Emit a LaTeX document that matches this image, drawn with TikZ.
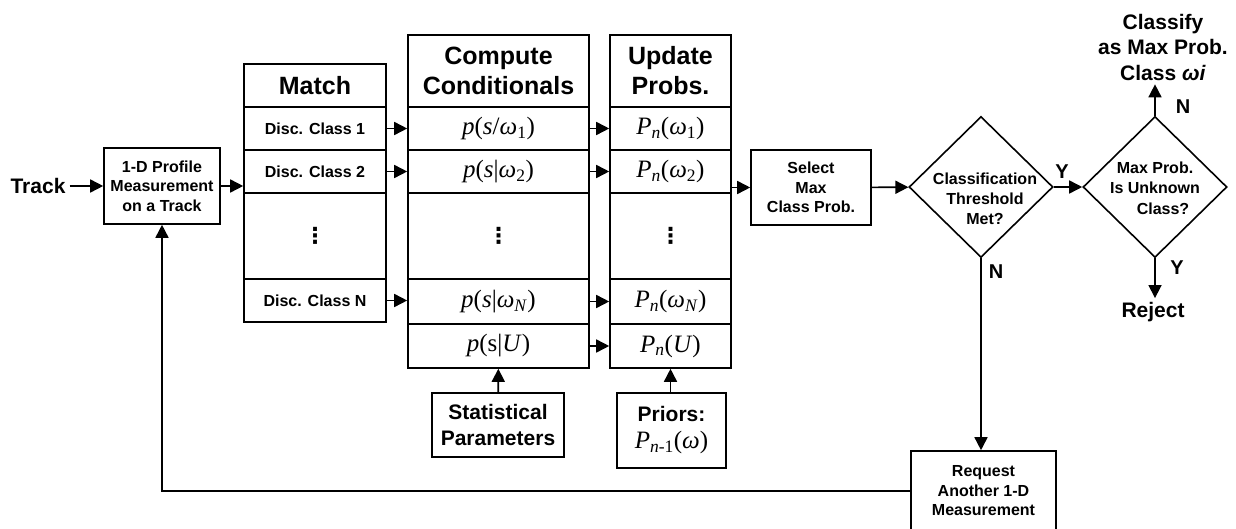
\documentclass[tikz,border=0pt]{standalone}
\usepackage{fontspec}
\setmainfont{Liberation Sans}
\newfontfamily\tnr{Liberation Serif}
\newfontfamily\djv{DejaVu Sans}
\usetikzlibrary{arrows.meta,shapes.geometric}

\begin{document}
\begin{tikzpicture}[x=1pt,y=-1pt,line width=1.6pt,
    cell/.style={draw,inner sep=0pt,align=center,minimum height=43pt,
                 font=\bfseries\fontsize{16}{19.5}\selectfont},
    head/.style={cell,font=\bfseries\fontsize{25}{30}\selectfont},
    mth/.style={cell,font=\tnr\fontsize{25}{28}\selectfont},
    mcol/.style={minimum width=142pt},
    ccol/.style={minimum width=181pt},
    ucol/.style={minimum width=121pt},
    big/.style={font=\bfseries\fontsize{21}{26}\selectfont,align=center},
    yn/.style={font=\bfseries\fontsize{20}{24}\selectfont},
    decision/.style={draw,diamond,inner sep=0pt,minimum width=144pt,minimum height=141pt},
    dots/.style={font=\djv\bfseries\fontsize{22}{24}\selectfont},
    arr/.style={-{Triangle[length=13pt,width=13pt]}}]
    \useasboundingbox (0,0) rectangle (1236,529);

    % input
    \node[big] (track) at (38,186) {Track};
    \node[cell,minimum width=116pt,minimum height=76pt] (prof) at (162,186)
        {1-D Profile\\Measurement\\on a Track};

    % match column
    \node[head,mcol] (m0) at (315,85.5) {Match};
    \node[cell,mcol] (m1) at (315,128.5) {Disc. Class 1};
    \node[cell,mcol] (m2) at (315,171.5) {Disc. Class 2};
    \node[cell,mcol,minimum height=86pt] (m3) at (315,236) {};
    \node[cell,mcol] (m4) at (315,300.5) {Disc. Class N};
    \node[dots] at (m3) {⋮};

    % conditionals column
    \node[head,ccol,minimum height=72pt] (c0) at (498.5,71) {Compute\\Conditionals};
    \node[mth,ccol] (c1) at (498.5,128.5)
        {\textit{p}(\textit{s}/\textit{ω}\textsubscript{1})};
    \node[mth,ccol] (c2) at (498.5,171.5)
        {\textit{p}(\textit{s}|\textit{ω}\textsubscript{2})};
    \node[mth,ccol,minimum height=86pt] (c3) at (498.5,236) {};
    \node[mth,ccol,minimum height=45pt] (c4) at (498.5,301.5)
        {\textit{p}(\textit{s}|\textit{ω}\textsubscript{\textit{N}})};
    \node[mth,ccol,minimum height=44pt] (c5) at (498.5,346)
        {\textit{p}(s|\textit{U})};
    \node[dots] at (c3) {⋮};

    % probabilities column
    \node[head,ucol,minimum height=72pt] (u0) at (670.5,71) {Update\\Probs.};
    \node[mth,ucol] (u1) at (670.5,128.5)
        {\textit{P}\textsubscript{\textit{n}}(\textit{ω}\textsubscript{1})};
    \node[mth,ucol] (u2) at (670.5,171.5)
        {\textit{P}\textsubscript{\textit{n}}(\textit{ω}\textsubscript{2})};
    \node[mth,ucol,minimum height=86pt] (u3) at (670.5,236) {};
    \node[mth,ucol,minimum height=45pt] (u4) at (670.5,301.5)
        {\textit{P}\textsubscript{\textit{n}}(\textit{ω}\textsubscript{\textit{N}})};
    \node[mth,ucol,minimum height=44pt] (u5) at (670.5,346)
        {\textit{P}\textsubscript{\textit{n}}(\textit{U})};
    \node[dots] at (u3) {⋮};

    % inputs from below
    \node[cell,big,minimum width=132pt,minimum height=64pt] (stat) at (498,425)
        {Statistical\\Parameters};
    \node[cell,big,minimum width=109pt,minimum height=75pt] (pri) at (671.5,430.5)
        {Priors:\\[1pt]{\tnr\mdseries\fontsize{25}{28}\selectfont
         \textit{P}\textsubscript{\textit{n}-1}(\textit{ω})}};

    % decisions
    \node[cell,minimum width=120pt,minimum height=75pt] (sel) at (811,187.5)
        {Select\\Max\\Class Prob.};
    \node[decision] (d1) at (981,187) {};
    \node[font=\bfseries\fontsize{16}{20}\selectfont,align=center] at (985,199)
        {Classification\\Threshold\\Met?};
    \node[decision] (d2) at (1155,187) {};
    \node[font=\bfseries\fontsize{16}{20.5}\selectfont,align=center] at (1155,188)
        {Max Prob.\\Is Unknown\\\hspace*{16pt}Class?};
    \node[big,font=\bfseries\fontsize{21}{25.5}\selectfont] (cls) at (1163,47)
        {Classify\\as Max Prob.\\Class \textit{ωi}};
    \node[big] (rej) at (1153,312) {Reject};
    \node[cell,minimum width=145pt,minimum height=80pt] (req) at (983.5,491)
        {Request\\Another 1-D\\Measurement};

    % labels
    \node[yn] at (1062,172) {Y};
    \node[yn] at (1183,107) {N};
    \node[yn] at (1177,268) {Y};
    \node[yn] at (996,272) {N};

    % connectors
    \draw[arr] (track) -- (prof);
    \draw[arr] (prof.east) -- (prof.east -| m2.west);
    \foreach \i in {1,2,4}
        \draw[arr] (m\i.east) -- (m\i.east -| c\i.west);
    \foreach \i in {1,2,4,5}
        \draw[arr] (c\i.east) -- (c\i.east -| u\i.west);
    \draw[arr] (u2.east |- sel.west) -- (sel.west);
    \draw[arr] (stat) -- (c5);
    \draw[arr] (pri.north -| u5.south) -- (u5.south);
    \draw[arr] (sel) -- (d1);
    \draw[arr] (d1) -- (d2);
    \draw[arr] (d2.north) -- (d2.north |- cls.south);
    \draw[arr] (d2.south) -- (d2.south |- rej.north);
    \draw[arr] (d1.south) -- (d1.south |- req.north);
    \draw[arr] (req.west) -- (prof.south |- req.west) -- (prof.south);
\end{tikzpicture}
\end{document}
